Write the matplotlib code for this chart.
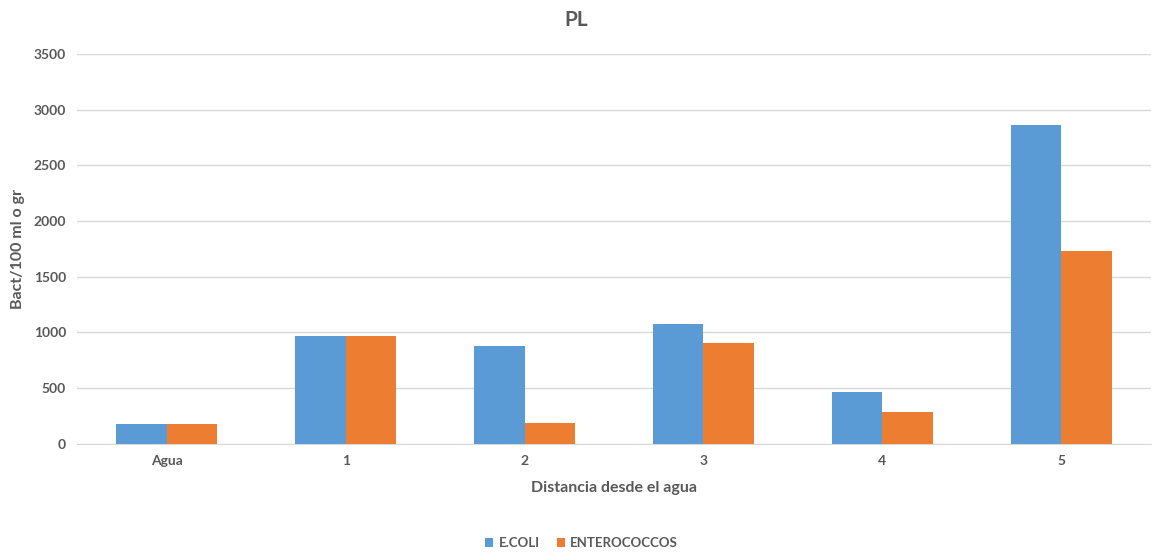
import numpy as np
import matplotlib
matplotlib.use("Agg")
import matplotlib.pyplot as plt

categories = ["Agua", "1", "2", "3", "4", "5"]
ecoli = [175, 970, 880, 1070, 460, 2860]
enterococcos = [175, 970, 180, 900, 280, 1730]

plt.rcParams['font.family'] = ['Lato', 'DejaVu Sans']
txt = '#595959'

fig = plt.figure(figsize=(11.52, 5.53), dpi=100)
ax = fig.add_axes([0.067, 0.198, 0.932, 0.704])

x = np.arange(len(categories))
w = 0.283
ax.bar(x - w / 2, ecoli, w, color='#5B9BD5', label='E.COLI', zorder=3)
ax.bar(x + w / 2, enterococcos, w, color='#ED7D31', label='ENTEROCOCCOS', zorder=3)

ax.set_xlim(-0.5, len(categories) - 0.5)
ax.set_ylim(0, 3500)
ax.set_yticks(np.arange(0, 3501, 500))
ax.set_xticks(x)
ax.set_xticklabels(categories)
ax.grid(axis='y', color='#D9D9D9', linewidth=1, zorder=0)
for s in ['top', 'right', 'left']:
    ax.spines[s].set_visible(False)
ax.spines['bottom'].set_color('#D9D9D9')
ax.tick_params(length=0, colors=txt, labelsize=10, pad=8)
for lbl in ax.get_xticklabels() + ax.get_yticklabels():
    lbl.set_fontweight('bold')

ax.set_xlabel('Distancia desde el agua', fontsize=11.5, fontweight='bold', color=txt, labelpad=10)
ax.set_ylabel('Bact/100 ml o gr', fontsize=11.5, fontweight='bold', color=txt, labelpad=6)
fig.suptitle('PL', fontsize=15, fontweight='bold', color=txt, y=0.963, va='center')

leg = fig.legend(loc='center', ncol=2, frameon=False, fontsize=9.5,
                 handlelength=0.6, handleheight=0.6, handletextpad=0.4,
                 columnspacing=1.3, bbox_to_anchor=(0.505, 1 - 543 / 553))
for t in leg.get_texts():
    t.set_color(txt)
    t.set_fontweight('bold')

fig.savefig('out.png', dpi=100)
